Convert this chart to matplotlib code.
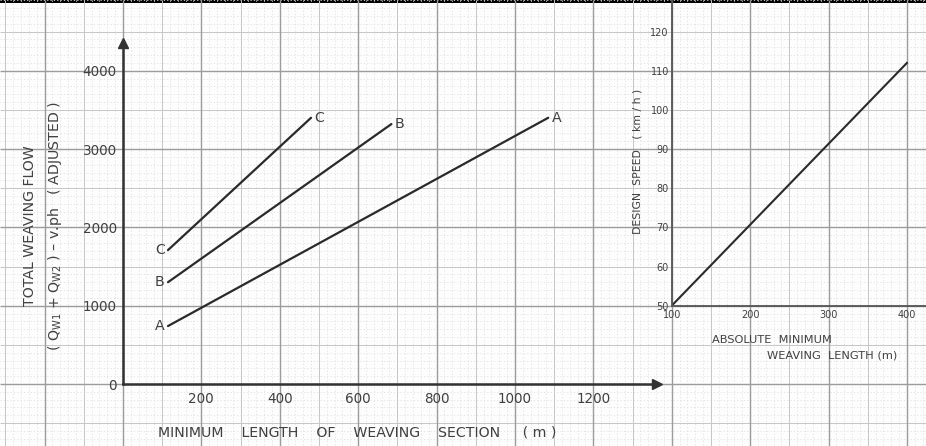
import numpy as np
import matplotlib
matplotlib.use("Agg")
import matplotlib.pyplot as plt
from matplotlib import font_manager as fm
from matplotlib.collections import LineCollection

# ---------------- data ----------------
# Left chart: total weaving flow vs minimum length of weaving section
line_names = ["A", "B", "C"]
length_A = [115, 1085]
flow_A = [740, 3400]
length_B = [115, 685]
flow_B = [1300, 3320]
length_C = [115, 480]
flow_C = [1710, 3400]
left_xticks = [200, 400, 600, 800, 1000, 1200]
left_yticks = [0, 1000, 2000, 3000, 4000]

# Right chart: design speed vs absolute minimum weaving length
abs_min_length = [100, 400]
design_speed = [50, 112]
right_xticks = [100, 200, 300, 400]
right_yticks = [50, 60, 70, 80, 90, 100, 110, 120]

# ---------------- fonts ----------------
avail = {f.name for f in fm.fontManager.ttflist}
NARROW = "Liberation Sans Narrow" in avail
FONT = "Liberation Sans Narrow" if NARROW else "DejaVu Sans"
S = 1.0 if NARROW else 0.78
plt.rcParams["font.family"] = [FONT, "DejaVu Sans"]
plt.rcParams["mathtext.fontset"] = "custom"
plt.rcParams["mathtext.rm"] = FONT
plt.rcParams["mathtext.it"] = FONT
TXT = "#404040"
INK = "#2a2a2a"

W, H = 926, 446
fig = plt.figure(figsize=(W / 100, H / 100), dpi=100)
fig.patch.set_facecolor("#fdfdfd")


def rect(x0, y_top, x1, y_bot):
    return [x0 / W, 1 - y_bot / H, (x1 - x0) / W, (y_bot - y_top) / H]


# ---------------- graph paper background ----------------
bg = fig.add_axes([0, 0, 1, 1], zorder=0)
bg.set_xlim(0, W)
bg.set_ylim(H, 0)
bg.axis("off")
STEP_X = 7.84
STEP_Y = 7.83
X0 = 44.5
Y0 = 384.0
segs = {"major": [], "half": [], "minor": []}
for k in range(-6, 120):
    x = X0 + k * STEP_X
    if x < -1 or x > W + 1:
        continue
    kind = "major" if k % 10 == 0 else ("half" if k % 5 == 0 else "minor")
    segs[kind].append([(x, 0), (x, H)])
for k in range(-10, 60):
    y = Y0 - k * STEP_Y
    if y < -1 or y > H + 1:
        continue
    kind = "major" if k % 10 == 0 else ("half" if k % 5 == 0 else "minor")
    segs[kind].append([(0, y), (W, y)])
bg.add_collection(LineCollection(segs["minor"], colors="#e0e0e0", linewidths=0.6,
                                 linestyles=(0, (1.5, 2.5))))
bg.add_collection(LineCollection(segs["half"], colors="#c6c6c6", linewidths=0.7))
bg.add_collection(LineCollection(segs["major"], colors="#9c9c9c", linewidths=1.0))
bg.axhspan(0, 3, color="black", lw=0)

# ---------------- left chart ----------------
PX_X = 0.392   # px per metre
PX_Y = 0.0783  # px per vph
LX0, LY0 = 122.9, 384.0
XMAX, YMAX = 1362, 4355
ax = fig.add_axes(rect(LX0, LY0 - YMAX * PX_Y, LX0 + XMAX * PX_X, LY0), zorder=2)
ax.patch.set_alpha(0)
ax.set_xlim(0, XMAX)
ax.set_ylim(0, YMAX)
for sp in ["top", "right"]:
    ax.spines[sp].set_visible(False)
for sp in ["left", "bottom"]:
    ax.spines[sp].set_color("#333333")
    ax.spines[sp].set_linewidth(1.8)
ax.plot(1, 0, ">", color="#333333", ms=7, transform=ax.transAxes, clip_on=False)
ax.plot(0, 1, "^", color="#333333", ms=7, transform=ax.transAxes, clip_on=False)

ax.set_xticks(left_xticks)
ax.set_yticks(left_yticks)
ax.tick_params(axis="both", length=0, colors=TXT)
ax.tick_params(axis="x", pad=5.5, labelsize=12.5 * S)
ax.tick_params(axis="y", pad=4.5, labelsize=12.5 * S)

series = {"A": (length_A, flow_A), "B": (length_B, flow_B), "C": (length_C, flow_C)}
for name in line_names:
    xs, ys = series[name]
    ax.plot(xs, ys, color=INK, lw=1.6, solid_capstyle="round")
    ax.annotate(name, (xs[0], ys[0]), xytext=(-5.8, 0), textcoords="offset points",
                ha="center", va="center", fontsize=13 * S, color=TXT)
    ax.annotate(name, (xs[-1], ys[-1]), xytext=(6.0, 0), textcoords="offset points",
                ha="center", va="center", fontsize=13 * S, color=TXT)

ax.set_xlabel("MINIMUM    LENGTH    OF    WEAVING    SECTION     ( m )",
              fontsize=13 * S, color=TXT)
ax.xaxis.set_label_coords((357 - LX0) / (XMAX * PX_X), (LY0 - 432) / (YMAX * PX_Y))
ax.xaxis.label.set(va="center", ha="center")
ax.set_ylabel("TOTAL WEAVING FLOW\n( Q$_{\\mathrm{W1}}$ + Q$_{\\mathrm{W2}}$ ) – v.ph   ( ADJUSTED )",
              fontsize=13 * S, color=TXT, linespacing=1.75)
ax.yaxis.set_label_coords((43.5 - LX0) / (XMAX * PX_X), (LY0 - 226) / (YMAX * PX_Y))
ax.yaxis.label.set(va="center", ha="center", rotation_mode="default")

# ---------------- right chart ----------------
RPX_X = 0.784   # px per metre
RPX_Y = 3.915   # px per km/h
RX0, RY0 = 671.7, 305.7
RXMAX, RYMAX = 424, 128
ax2 = fig.add_axes(rect(RX0, RY0 - (RYMAX - 50) * RPX_Y, RX0 + (RXMAX - 100) * RPX_X, RY0),
                   zorder=2)
ax2.patch.set_alpha(0)
ax2.set_xlim(100, RXMAX)
ax2.set_ylim(50, RYMAX)
for sp in ["top", "right"]:
    ax2.spines[sp].set_visible(False)
for sp in ["left", "bottom"]:
    ax2.spines[sp].set_color("#555555")
    ax2.spines[sp].set_linewidth(1.3)
ax2.set_xticks(right_xticks)
ax2.set_yticks(right_yticks)
ax2.tick_params(axis="both", length=0, colors=TXT, labelsize=9 * S)
ax2.tick_params(axis="x", pad=3)
ax2.tick_params(axis="y", pad=2)
ax2.plot(abs_min_length, design_speed, color=INK, lw=1.5)

fig.text(638 / W, 1 - 161 / H, "DESIGN  SPEED   ( km / h )", rotation=90,
         ha="center", va="center", fontsize=10 * S, color=TXT)
fig.text(712 / W, 1 - 340 / H, "ABSOLUTE  MINIMUM", ha="left", va="center",
         fontsize=10.5 * S, color=TXT)
fig.text(767 / W, 1 - 355 / H, "WEAVING  LENGTH (m)", ha="left", va="center",
         fontsize=10.5 * S, color=TXT)

fig.savefig("out.png", dpi=100, facecolor=fig.get_facecolor())
